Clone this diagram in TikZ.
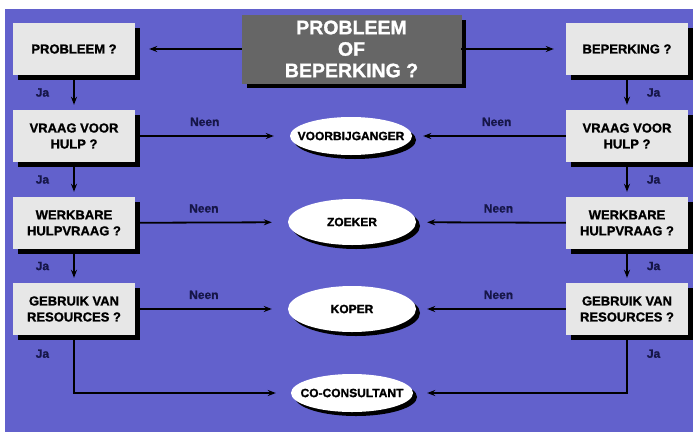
\documentclass[tikz,border=0pt]{standalone}
\usepackage{fontspec}
\setmainfont{Liberation Sans}[BoldFeatures={FakeBold=1.2}]
\usetikzlibrary{shapes.geometric,shadows,arrows.meta}
\definecolor{bgblue}{RGB}{98,97,204}
\definecolor{boxgray}{RGB}{231,231,231}
\definecolor{titlegray}{RGB}{102,102,102}
\definecolor{labelnavy}{RGB}{22,22,72}
\newcommand{\inell}[1]{\makebox[0pt]{#1}}

\begin{document}
\begin{tikzpicture}[x=1pt,y=-1pt,every node/.style={font=\bfseries},
    question/.style={rectangle,fill=boxgray,minimum width=122pt,minimum height=52pt,inner sep=0pt,align=center,
        font=\fontsize{13}{16}\selectfont\bfseries,
        drop shadow={shadow xshift=5pt,shadow yshift=-5pt,fill=black,opacity=1}},
    role/.style={ellipse,fill=white,minimum width=122pt,minimum height=38pt,inner sep=0pt,
        font=\fontsize{12}{14}\selectfont\bfseries,
        drop shadow={shadow xshift=4pt,shadow yshift=-4pt,fill=black,opacity=1}},
    arr/.style={line width=1.8pt,-{Stealth[length=8pt,width=6pt]}},
    ja/.style={font=\fontsize{12}{14}\selectfont\bfseries,text=labelnavy,inner sep=0pt}]
    % Background
    \useasboundingbox (0,0) rectangle (693,434);
    \fill[bgblue] (5,9) rectangle (693,432);

    % Start
    \node[rectangle,fill=titlegray,draw=black!60,line width=0.6pt,minimum width=219pt,minimum height=68pt,
        inner sep=0pt,align=center,text=white,font=\fontsize{19.5}{21.5}\selectfont\bfseries,
        drop shadow={shadow xshift=5pt,shadow yshift=-5pt,fill=black,opacity=1}]
        (titel) at (351.5,49) {PROBLEEM\\OF\\BEPERKING ?};

    % Left column
    \node[question] (probleem) at (74,49) {PROBLEEM ?};
    \node[question] (vraagL) at (74,136) {VRAAG VOOR\\HULP ?};
    \node[question] (werkbaarL) at (74,223) {WERKBARE\\HULPVRAAG ?};
    \node[question] (gebruikL) at (74,309) {GEBRUIK VAN\\RESOURCES ?};

    % Right column
    \node[question] (beperking) at (627,49) {BEPERKING ?};
    \node[question] (vraagR) at (627,136) {VRAAG VOOR\\HULP ?};
    \node[question] (werkbaarR) at (627,223) {WERKBARE\\HULPVRAAG ?};
    \node[question] (gebruikR) at (627,309) {GEBRUIK VAN\\RESOURCES ?};

    % Roles
    \node[role] (voorbij) at (351,136) {\inell{VOORBIJGANGER}};
    \node[role,minimum width=128pt,minimum height=46pt] (zoeker) at (352,222) {\inell{ZOEKER}};
    \node[role,minimum width=128pt,minimum height=46pt] (koper) at (352,309) {\inell{KOPER}};
    \node[role] (cocons) at (352,393) {\inell{CO-CONSULTANT}};

    % Start arrows
    \draw[arr,shorten >=14pt] (titel) -- (probleem);
    \draw[arr,shorten >=12pt] (titel) -- (beperking);

    % Ja arrows
    \draw[arr,shorten >=5pt] (probleem) -- node[ja,midway,left=24pt] {Ja} (vraagL);
    \draw[arr,shorten >=5pt] (vraagL) -- node[ja,midway,left=24pt] {Ja} (werkbaarL);
    \draw[arr,shorten >=5pt] (werkbaarL) -- node[ja,midway,left=24pt] {Ja} (gebruikL);
    \draw[arr,shorten >=5pt] (beperking) -- node[ja,midway,right=19pt] {Ja} (vraagR);
    \draw[arr,shorten >=5pt] (vraagR) -- node[ja,midway,right=19pt] {Ja} (werkbaarR);
    \draw[arr,shorten >=5pt] (werkbaarR) -- node[ja,midway,right=19pt] {Ja} (gebruikR);
    \draw[arr,shorten >=15pt] (gebruikL.south) |- node[ja,pos=0.16,left=24pt] {Ja} (cocons.west);
    \draw[arr,shorten >=14pt] (gebruikR.south) |- node[ja,pos=0.16,right=19pt] {Ja} (cocons.east);

    % Neen arrows
    \draw[arr,shorten >=16pt] (vraagL) -- node[ja,pos=0.45,above=9pt] {Neen} (voorbij);
    \draw[arr,shorten >=16pt] (werkbaarL) -- node[ja,pos=0.45,above=9pt] {Neen} (zoeker);
    \draw[arr,shorten >=16pt] (gebruikL) -- node[ja,pos=0.45,above=9pt] {Neen} (koper);
    \draw[arr,shorten >=11pt] (vraagR) -- node[ja,pos=0.45,above=9pt] {Neen} (voorbij);
    \draw[arr,shorten >=11pt] (werkbaarR) -- node[ja,pos=0.45,above=9pt] {Neen} (zoeker);
    \draw[arr,shorten >=11pt] (gebruikR) -- node[ja,pos=0.45,above=9pt] {Neen} (koper);
\end{tikzpicture}
\end{document}
